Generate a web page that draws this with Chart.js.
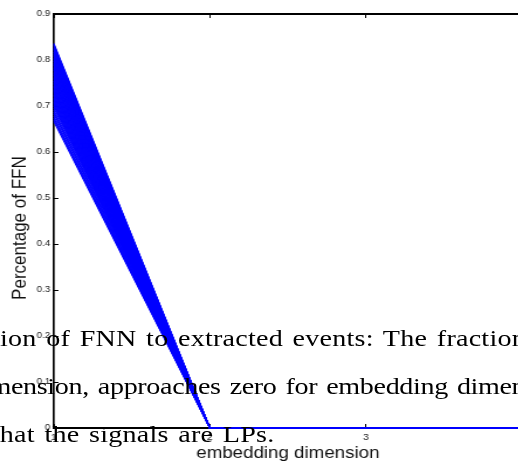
<!DOCTYPE html>
<html>
<head>
<meta charset="utf-8">
<script src="https://cdn.jsdelivr.net/npm/chart.js@4.4.0/dist/chart.umd.min.js"></script>
<style>
  html, body { margin: 0; padding: 0; background: #fff; overflow: hidden; }
  #wrap {
    position: absolute; left: 0; top: 0;
    width: 462px; height: 468px;
    transform: scaleX(1.17); transform-origin: 0 0;
  }
  #myChart { position: absolute; left: 0; top: 0; }
  .txt {
    position: absolute; white-space: nowrap;
    font-family: "Liberation Serif", serif; font-size: 24px; line-height: 24px;
    letter-spacing: 0.2px; word-spacing: 2px; color: #000; z-index: 2;
  }
</style>
</head>
<body>
<div id="wrap">
  <canvas id="myChart" width="462" height="468"></canvas>
  <div class="txt" style="left:0px; top:326px;">ion of FNN to extracted events: The fraction</div>
  <div class="txt" style="left:-9px; top:374px; letter-spacing:-0.3px;">mension, approaches zero for embedding dimension</div>
  <div class="txt" style="left:-7px; top:422px;">that the signals are LPs.</div>
</div>
<script>
// embedding dimensions on the x axis
const dims = [1, 2, 3, 4];
// fraction of FNN at dimension 1, one value per extracted event
const ffnDim1 = [0.836, 0.834, 0.832, 0.829, 0.826, 0.824, 0.821, 0.818, 0.816, 0.813,
                 0.810, 0.808, 0.805, 0.802, 0.799, 0.797, 0.794, 0.791, 0.789, 0.786,
                 0.783, 0.780, 0.778, 0.775, 0.772, 0.769, 0.767, 0.764, 0.761, 0.758,
                 0.755, 0.753, 0.750, 0.747, 0.744, 0.741, 0.738, 0.735, 0.733, 0.730,
                 0.727, 0.724, 0.721, 0.718, 0.715, 0.712, 0.709, 0.706, 0.703, 0.700,
                 0.696, 0.691, 0.687, 0.683, 0.678, 0.674, 0.670, 0.666];
// fraction of FNN at dimensions 2, 3, 4 (same for every event)
const ffnRest = [0, 0, 0];
const yTicks = [0, 0.1, 0.2, 0.3, 0.4, 0.5, 0.6, 0.7, 0.8, 0.9];

const datasets = ffnDim1.map(v => ({
  data: [v].concat(ffnRest).map((y, i) => ({x: dims[i], y: y})),
  borderColor: "#0000ff",
  borderWidth: 1.1,
  pointRadius: 0,
  tension: 0,
  fill: false,
  clip: false
}));

const chart = new Chart("myChart", {
  type: "line",
  data: { datasets: datasets },
  options: {
    responsive: false,
    animation: false,
    events: [],
    layout: { padding: { top: 14, right: 16, left: 0, bottom: 0 } },
    plugins: { legend: { display: false }, tooltip: { enabled: false } },
    scales: {
      x: {
        type: "linear", position: "bottom", min: 1, max: 4,
        afterFit: s => { s.height = 40; },
        afterBuildTicks: s => { s.ticks = dims.map(v => ({value: v})); },
        grid: { drawOnChartArea: false, tickLength: -4, color: "#000", lineWidth: 1 },
        border: { color: "#000", width: 2 },
        ticks: { padding: 8, color: "#222", font: { family: "Liberation Sans", size: 9 }, maxRotation: 0 },
        title: { display: true, text: "embedding dimension", color: "#111",
                 font: { family: "Liberation Sans", size: 16 }, padding: { top: 0, bottom: 5 } }
      },
      xTop: {
        type: "linear", position: "top", min: 1, max: 4,
        afterFit: s => { s.height = 0; },
        afterBuildTicks: s => { s.ticks = dims.map(v => ({value: v})); },
        grid: { drawOnChartArea: false, tickLength: -4, color: "#000", lineWidth: 1 },
        border: { color: "#000", width: 2 },
        ticks: { display: false }
      },
      y: {
        type: "linear", min: 0, max: 0.9,
        afterFit: s => { s.width = 46; },
        afterBuildTicks: s => { s.ticks = yTicks.map(v => ({value: v})); },
        grid: { drawOnChartArea: false, tickLength: -4, color: "#000", lineWidth: 1 },
        border: { color: "#000", width: 1.7 },
        ticks: { padding: 7, color: "#222", font: { family: "Liberation Sans", size: 8.5 },
                 callback: v => String(Math.round(v * 10) / 10) },
        title: { display: true, text: "Percentage of FFN\u00a0\u00a0\u00a0", color: "#111",
                 font: { family: "Liberation Sans", size: 17 }, padding: { top: 7, bottom: 0 } }
      }
    }
  }
});
</script>
</body>
</html>
